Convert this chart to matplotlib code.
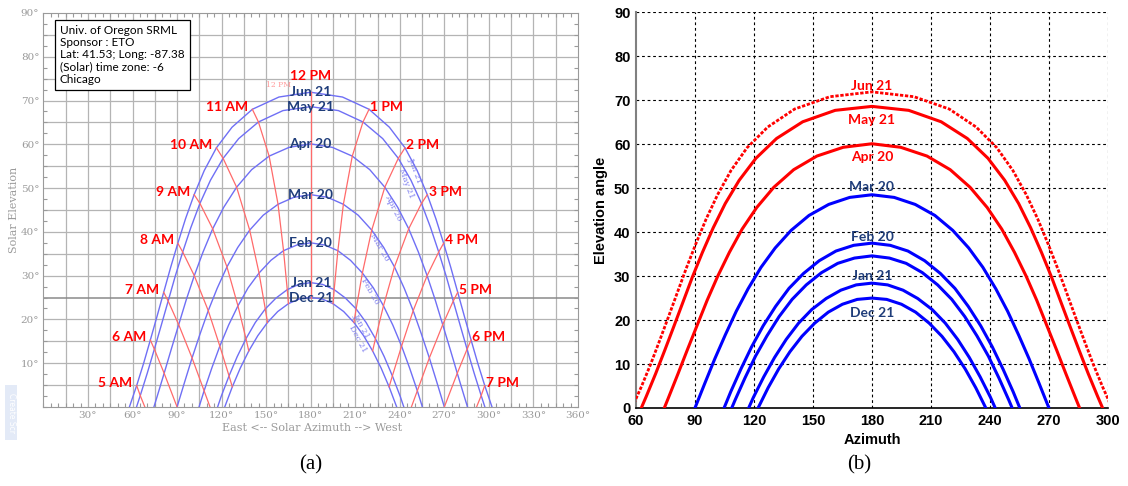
import numpy as np
import matplotlib.pyplot as plt
from matplotlib.patches import Rectangle

nan = np.nan

# solar time grid, half-hour steps
solar_time = [5.0, 5.5, 6.0, 6.5, 7.0, 7.5, 8.0, 8.5, 9.0, 9.5, 10.0, 10.5, 11.0, 11.5,
              12.0, 12.5, 13.0, 13.5, 14.0, 14.5, 15.0, 15.5, 16.0, 16.5, 17.0, 17.5,
              18.0, 18.5, 19.0]

# sun position (azimuth, elevation in degrees) for each date, nan = below horizon
jun_az = [62.8, 67.5, 72.0, 76.5, 81.0, 85.6, 90.5, 95.7, 101.5, 108.3, 116.5, 127.0, 140.7, 158.6,
          180.0, 201.4, 219.3, 233.0, 243.5, 251.7, 258.5, 264.3, 269.5, 274.4, 279.0, 283.5,
          288.0, 292.5, 297.2]
jun_el = [4.9, 10.0, 15.3, 20.7, 26.2, 31.8, 37.4, 43.0, 48.5, 54.0, 59.2, 63.9, 68.0, 70.8,
          71.9, 70.8, 68.0, 63.9, 59.2, 54.0, 48.5, 43.0, 37.4, 31.8, 26.2, 20.7,
          15.3, 10.0, 4.9]

may_az = [65.2, 70.0, 74.7, 79.3, 84.0, 88.7, 93.8, 99.3, 105.4, 112.5, 121.0, 131.5, 144.8, 161.3,
          180.0, 198.7, 215.2, 228.5, 239.0, 247.5, 254.6, 260.7, 266.2, 271.3, 276.0, 280.7,
          285.3, 290.0, 294.8]
may_el = [2.6, 7.8, 13.2, 18.6, 24.2, 29.8, 35.4, 41.0, 46.5, 51.8, 56.8, 61.3, 65.1, 67.7,
          68.6, 67.7, 65.1, 61.3, 56.8, 51.8, 46.5, 41.0, 35.4, 29.8, 24.2, 18.6,
          13.2, 7.8, 2.6]

apr_az = [nan, 76.4, 81.3, 86.1, 91.1, 96.2, 101.6, 107.5, 114.0, 121.4, 130.1, 140.2, 152.0, 165.4,
          180.0, 194.6, 208.0, 219.8, 229.9, 238.6, 246.0, 252.5, 258.4, 263.8, 268.9, 273.9,
          278.7, 283.6, nan]
apr_el = [nan, 2.2, 7.7, 13.2, 18.8, 24.5, 30.0, 35.4, 40.7, 45.6, 50.2, 54.2, 57.3, 59.3,
          60.1, 59.3, 57.3, 54.2, 50.2, 45.6, 40.7, 35.4, 30.0, 24.5, 18.8, 13.2,
          7.7, 2.2, nan]

mar_az = [nan, nan, 90.0, 95.0, 100.1, 105.4, 111.0, 117.0, 123.6, 130.8, 138.9, 148.0, 158.0, 168.7,
          180.0, 191.3, 202.0, 212.0, 221.1, 229.2, 236.4, 243.0, 249.0, 254.6, 259.9, 265.0,
          270.0, nan, nan]
mar_el = [nan, nan, 0.0, 5.6, 11.2, 16.6, 22.0, 27.1, 32.0, 36.4, 40.4, 43.8, 46.3, 47.9,
          48.5, 47.9, 46.3, 43.8, 40.4, 36.4, 32.0, 27.1, 22.0, 16.6, 11.2, 5.6,
          0.0, nan, nan]

feb_az = [nan, nan, nan, nan, 108.2, 113.4, 118.8, 124.7, 131.0, 137.8, 145.2, 153.2, 161.7, 170.7,
          180.0, 189.3, 198.3, 206.8, 214.8, 222.2, 229.0, 235.3, 241.2, 246.6, 251.8, nan,
          nan, nan, nan]
feb_el = [nan, nan, nan, nan, 3.7, 8.9, 13.9, 18.7, 23.1, 27.2, 30.6, 33.5, 35.7, 37.0,
          37.5, 37.0, 35.7, 33.5, 30.6, 27.2, 23.1, 18.7, 13.9, 8.9, 3.7, nan,
          nan, nan, nan]

jan_az = [nan, nan, nan, nan, nan, 119.7, 125.0, 130.5, 136.4, 142.7, 149.4, 156.7, 164.2, 172.0,
          180.0, 188.0, 195.8, 203.3, 210.6, 217.3, 223.6, 229.5, 235.0, 240.3, nan, nan,
          nan, nan, nan]
jan_el = [nan, nan, nan, nan, nan, 2.4, 7.1, 11.5, 15.6, 19.3, 22.4, 24.9, 26.8, 28.0,
          28.4, 28.0, 26.8, 24.9, 22.4, 19.3, 15.6, 11.5, 7.1, 2.4, nan, nan,
          nan, nan, nan]

dec_az = [nan, nan, nan, nan, nan, nan, 127.2, 132.6, 138.3, 144.4, 150.9, 157.8, 165.0, 172.5,
          180.0, 187.5, 195.0, 202.2, 209.1, 215.6, 221.7, 227.4, 232.8, nan, nan, nan,
          nan, nan, nan]
dec_el = [nan, nan, nan, nan, nan, nan, 4.6, 8.9, 12.8, 16.3, 19.3, 21.8, 23.6, 24.7,
          25.0, 24.7, 23.6, 21.8, 19.3, 16.3, 12.8, 8.9, 4.6, nan, nan, nan,
          nan, nan, nan]

# extra unlabelled path in the right panel
extra_az = [nan, nan, nan, nan, 110.3, 115.4, 120.8, 126.6, 132.8, 139.4, 146.6, 154.4, 162.6, 171.1,
            180.0, 188.9, 197.4, 205.6, 213.4, 220.6, 227.2, 233.4, 239.2, 244.6, 249.7, nan,
            nan, nan, nan]
extra_el = [nan, nan, nan, nan, 1.7, 6.8, 11.8, 16.4, 20.8, 24.7, 28.0, 30.8, 32.9, 34.1,
            34.6, 34.1, 32.9, 30.8, 28.0, 24.7, 20.8, 16.4, 11.8, 6.8, 1.7, nan,
            nan, nan, nan]
extra_rise, extra_set = 108.7, 251.3

dates = ['Jun 21', 'May 21', 'Apr 20', 'Mar 20', 'Feb 20', 'Jan 21', 'Dec 21']
rise_az = [57.9, 62.7, 74.4, 90.0, 104.8, 117.3, 122.1]
set_az = [302.1, 297.3, 285.6, 270.0, 255.2, 242.7, 237.9]

hours = [5, 6, 7, 8, 9, 10, 11, 12, 13, 14, 15, 16, 17, 18, 19]
hour_labels = ['5 AM', '6 AM', '7 AM', '8 AM', '9 AM', '10 AM', '11 AM', '12 PM',
               '1 PM', '2 PM', '3 PM', '4 PM', '5 PM', '6 PM', '7 PM']
# where the early/late hour lines meet the horizon
horizon_hours = [5, 7, 17, 19]
horizon_az = [68.3, 112.2, 247.8, 291.7]

# label heights in the right panel
b_label_el = [73.2, 65.5, 57.0, 50.2, 39.0, 30.0, 21.6]

path_az = [jun_az, may_az, apr_az, mar_az, feb_az, jan_az, dec_az]
path_el = [jun_el, may_el, apr_el, mar_el, feb_el, jan_el, dec_el]


def full_path(az, el, r, s):
    az = np.asarray(az, dtype=float)
    el = np.asarray(el, dtype=float)
    ok = ~np.isnan(el)
    return np.r_[r, az[ok], s], np.r_[0.0, el[ok], 0.0]


navy = '#1f3d7a'
gray = '#9a9a9a'

fig = plt.figure(figsize=(11.28, 4.86), dpi=100)

# ---------------- (a) sun path chart ----------------
ax = fig.add_axes([0.0385, 0.1626, 0.4739, 0.8107])
ax.set_xlim(0, 360)
ax.set_ylim(0, 90)
ax.set_xticks(range(30, 361, 30))
ax.set_xticklabels([f'{v}°' for v in range(30, 361, 30)])
ax.set_yticks(range(10, 91, 10))
ax.set_yticklabels([f'{v}°' for v in range(10, 91, 10)])
ax.set_xticks(range(0, 361, 5), minor=True)
ax.set_yticks(np.arange(0, 90.1, 2.5), minor=True)
ax.tick_params(which='both', direction='in', top=True, right=True, color=gray,
               labelcolor=gray, labelsize=7.5, pad=3)
ax.tick_params(which='major', length=0)
ax.tick_params(which='minor', length=3, width=0.8)
for lab in ax.get_xticklabels() + ax.get_yticklabels():
    lab.set_family('DejaVu Serif')
for sp in ax.spines.values():
    sp.set_color(gray)

for v in range(15, 360, 15):
    ax.axvline(v, color='#b4b4b4', lw=0.9, zorder=0)
for v in range(5, 90, 5):
    ax.axhline(v, color='#8a8a8a' if v == 25 else '#b4b4b4', lw=1.1 if v == 25 else 0.9, zorder=0)

for az, el, r, s in zip(path_az, path_el, rise_az, set_az):
    x, y = full_path(az, el, r, s)
    ax.plot(x, y, color='#6f6ff5', lw=1.0, zorder=2)

for h in hours:
    k = solar_time.index(h)
    xs = [a[k] for a, e in zip(path_az, path_el) if not np.isnan(e[k])]
    ys = [e[k] for e in path_el if not np.isnan(e[k])]
    if h in horizon_hours:
        xs.append(horizon_az[horizon_hours.index(h)])
        ys.append(0.0)
    ax.plot(xs, ys, color='#ff6a6a', lw=0.9, zorder=3)

lbl = dict(color='red', fontsize=10, fontweight='bold', family='Lato')
for h, text in zip(hours, hour_labels):
    k = solar_time.index(h)
    x, y = jun_az[k], jun_el[k]
    if h < 12:
        ax.annotate(text, (x, y), xytext=(-3, 2), textcoords='offset points',
                    ha='right', va='center', **lbl)
    elif h == 12:
        ax.annotate(text, (x, y), xytext=(0, 11.5), textcoords='offset points',
                    ha='center', va='center', **lbl)
    else:
        ax.annotate(text, (x, y), xytext=(1, 2), textcoords='offset points',
                    ha='left', va='center', **lbl)

noon = solar_time.index(12.0)
for d, el in zip(dates, path_el):
    ax.text(180, el[noon], d, color=navy, fontsize=10, fontweight='bold', family='Lato',
            ha='center', va='center', zorder=5)

# small labels along the afternoon side of each path
small_pos = [(250.5, 54.0, -70), (244.5, 51.0, -70), (235.5, 45.5, -63), (226.0, 36.5, -60),
             (220.0, 26.5, -60), (214.5, 18.5, -62), (211.5, 15.5, -62)]
for d, (x, y, rot) in zip(dates, small_pos):
    ax.text(x, y, d, color='#8080f0', fontsize=6, family='DejaVu Serif', rotation=rot,
            ha='center', va='center', zorder=4)
ax.text(158.0, 73.5, '12 PM', color='#ff9a9a', fontsize=5.5, family='DejaVu Serif',
        ha='center', va='center', zorder=4)

ax.text(0.031, 0.969, 'Univ. of Oregon SRML\nSponsor : ETO\nLat: 41.53; Long: -87.38\n'
        '(Solar) time zone: -6\nChicago', transform=ax.transAxes, family='Lato', fontsize=8.5,
        ha='left', va='top', linespacing=1.12, zorder=6,
        bbox=dict(boxstyle='square,pad=0.45', facecolor='white', edgecolor='black', lw=0.9))

ax.set_xlabel('East <-- Solar Azimuth --> West', color=gray, family='DejaVu Serif', fontsize=8)
ax.xaxis.set_label_coords(0.502, -0.041)
ax.set_ylabel('Solar Elevation', color=gray, family='DejaVu Serif', fontsize=8)
ax.yaxis.set_label_coords(-0.046, 0.5)

# ---------------- (b) measured elevation vs azimuth ----------------
bx = fig.add_axes([0.5638, 0.1605, 0.4184, 0.8142])
bx.set_xlim(60, 300)
bx.set_ylim(0, 90)
bx.set_xticks(range(60, 301, 30))
bx.set_yticks(range(0, 91, 10))
bx.tick_params(length=0, labelsize=10.5, pad=4)
for lab in bx.get_xticklabels() + bx.get_yticklabels():
    lab.set_family('Liberation Sans')
    lab.set_fontweight('bold')
for v in range(90, 301, 30):
    bx.axvline(v, color='black', lw=0.8, ls=(0, (2.5, 2.5)), zorder=0)
for v in range(10, 91, 10):
    bx.axhline(v, color='black', lw=0.8, ls=(0, (2.5, 2.5)), zorder=0)
bx.spines['top'].set_visible(False)
bx.spines['right'].set_visible(False)
bx.spines['left'].set_color('#808080')
bx.spines['left'].set_linewidth(1.5)
bx.spines['bottom'].set_linewidth(1.2)

b_colors = ['red', 'red', 'red', 'blue', 'blue', 'blue', 'blue']
for i, (az, el, r, s) in enumerate(zip(path_az, path_el, rise_az, set_az)):
    x, y = full_path(az, el, r, s)
    if i == 0:
        bx.plot(x, y, color=b_colors[i], lw=2.0, ls=(0, (1.2, 0.6)), zorder=3)
    else:
        bx.plot(x, y, color=b_colors[i], lw=2.2, zorder=3)
x, y = full_path(extra_az, extra_el, extra_rise, extra_set)
bx.plot(x, y, color='blue', lw=2.2, zorder=3)

for d, c, y in zip(dates, b_colors, b_label_el):
    bx.text(180, y, d, color='red' if c == 'red' else navy, fontsize=10,
            fontweight='bold', family='Lato', ha='center', va='center', zorder=5)

bx.set_xlabel('Azimuth', family='Liberation Sans', fontweight='bold', fontsize=10.5)
bx.xaxis.set_label_coords(0.5, -0.063)
bx.set_ylabel('Elevation angle', family='Liberation Sans', fontweight='bold', fontsize=10.5)
bx.yaxis.set_label_coords(-0.059, 0.5)

fig.text(0.275, 0.043, '(a)', family='Liberation Serif', fontsize=15, ha='center', va='center')
fig.text(0.762, 0.043, '(b)', family='Liberation Serif', fontsize=15, ha='center', va='center')

# faint side tab at the bottom left
fig.patches.append(Rectangle((0.0044, 0.095), 0.0107, 0.113, transform=fig.transFigure,
                             facecolor='#e3eaf7', edgecolor='none'))
fig.text(0.0098, 0.151, 'Create Scr', color='white', fontsize=5.5, rotation=-90,
         ha='center', va='center')

fig.savefig('out.png', dpi=100)
